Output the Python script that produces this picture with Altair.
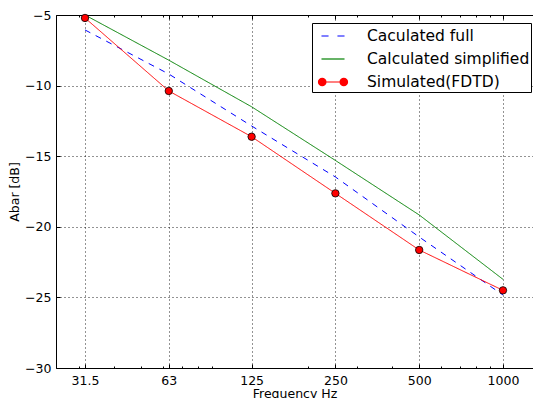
import math
import altair as alt
import pandas as pd

# ---- data ----
freqs = [31.5, 63, 125, 250, 500, 1000]
calc_full = [-6.06, -9.18, -12.86, -16.47, -20.72, -24.83]
calc_simplified = [-5.0, -8.2, -11.5, -15.3, -19.16, -23.72]
simulated = [-5.21, -10.38, -13.62, -17.63, -21.64, -24.5]
series_names = ["Caculated full", "Calculated simplified", "Simulated(FDTD)"]
major_ticks = [31.5, 63, 125, 250, 500, 1000]
minor_ticks = [30, 40, 50, 60, 70, 80, 90, 200, 300, 400, 600, 700, 800, 900]
y_ticks = [-30, -25, -20, -15, -10, -5]

rows = []
for name, vals in zip(series_names, [calc_full, calc_simplified, simulated]):
    for f, v in zip(freqs, vals):
        rows.append({"freq": f, "abar": v, "series": name})
df = pd.DataFrame(rows)
sim_df = df[df["series"] == "Simulated(FDTD)"]

FONT = "DejaVu Sans"
xscale = alt.Scale(type="log", domain=[24.78, 1282], nice=False)
yscale = alt.Scale(domain=[-30, -5], nice=False, zero=False)
colors = ["#0000ff", "#008000", "#ff0000"]
# line scales take their (alphabetical) domain from the data
color_scale = alt.Scale(range=colors)
dash_scale = alt.Scale(range=[[6, 6], [1, 0], [1, 0]])
fill_scale = alt.Scale(domain=series_names, range=colors)


# legend symbols (unit coordinates, scaled by sqrt(size)/2)
def poly_circle(cx, r, n=16):
    pts = [(cx + r * math.cos(2 * math.pi * k / n), r * math.sin(2 * math.pi * k / n)) for k in range(n)]
    return "M" + "L".join(f"{x:.3f},{y:.3f}" for x, y in pts) + "Z"


path_full = "M-0.96,-0.05L-0.37,-0.05L-0.37,0.05L-0.96,0.05Z M0.37,-0.05L0.96,-0.05L0.96,0.05L0.37,0.05Z"
path_simpl = "M-0.96,-0.05L0.96,-0.05L0.96,0.05L-0.96,0.05Z"
path_sim = ("M-0.9,-0.05L0.9,-0.05L0.9,0.05L-0.9,0.05Z "
            + poly_circle(-0.9, 0.36) + " " + poly_circle(0.9, 0.36))
shape_scale = alt.Scale(domain=series_names, range=[path_full, path_simpl, path_sim])

y_main = alt.Y("abar:Q", scale=yscale, axis=alt.Axis(
    orient="left", values=y_ticks, format="d",
    grid=True, gridColor="black", gridDash=[1, 3], gridWidth=1, gridOpacity=0.85,
    domain=False, ticks=True, tickSize=4, tickColor="black", tickWidth=1, offset=-4,
    labelPadding=5, labelFont=FONT, labelFontSize=12.5, labelColor="black",
    title="Abar [dB]", titleFont=FONT, titleFontSize=12.5,
    titleFontWeight="normal", titleColor="black", titlePadding=3))
y_plain = alt.Y("abar:Q", scale=yscale)

lines = alt.Chart(df).mark_line(strokeWidth=1, clip=True).encode(
    x=alt.X("freq:Q", scale=xscale, axis=alt.Axis(
        orient="bottom", values=major_ticks, format="~g",
        grid=True, gridColor="black", gridDash=[1, 3], gridWidth=1, gridOpacity=0.85,
        domain=False, ticks=True, tickSize=4, tickColor="black", tickWidth=1, offset=-4,
        labelPadding=6, labelFont=FONT, labelFontSize=12.5, labelColor="black",
        title="Frequency Hz", titleFont=FONT, titleFontSize=12.5,
        titleFontWeight="normal", titleColor="black", titlePadding=1)),
    y=y_main,
    color=alt.Color("series:N", scale=color_scale, legend=None),
    strokeDash=alt.StrokeDash("series:N", scale=dash_scale, legend=None),
)

points = alt.Chart(sim_df).mark_point(
    shape="circle", filled=True, fill="#ff0000", stroke="black",
    strokeWidth=0.8, size=55, opacity=1
).encode(
    x=alt.X("freq:Q", scale=xscale, axis=alt.Axis(
        orient="top", values=major_ticks, labels=False, grid=False, domain=False,
        ticks=True, tickSize=4, tickColor="black", offset=-4, title=None)),
    y=y_plain,
)

legend_layer = alt.Chart(df).mark_point(filled=True, opacity=0).encode(
    x=alt.X("freq:Q", scale=xscale, axis=alt.Axis(
        orient="bottom", values=minor_ticks, labels=False, grid=False, domain=False,
        ticks=True, tickSize=2, tickColor="black", offset=-2, title=None)),
    y=y_plain,
    fill=alt.Fill("series:N", scale=fill_scale, legend=alt.Legend(
        title=None, orient="none", legendX=256, legendY=8)),
    shape=alt.Shape("series:N", scale=shape_scale, legend=alt.Legend(
        title=None, orient="none", legendX=256, legendY=8)),
)

minor_top = alt.Chart(df).mark_point(opacity=0).encode(
    x=alt.X("freq:Q", scale=xscale, axis=alt.Axis(
        orient="top", values=minor_ticks, labels=False, grid=False, domain=False,
        ticks=True, tickSize=2, tickColor="black", offset=-2, title=None)),
    y=y_plain,
)

chart = alt.layer(lines, points, legend_layer, minor_top).resolve_axis(
    x="independent"
).properties(
    width=477, height=353,
    autosize=alt.AutoSizeParams(type="none"),
    padding={"left": 56, "top": 15, "right": 0, "bottom": 30},
    background="white",
).configure_view(
    stroke="black", strokeWidth=1
).configure_legend(
    padding=1, rowPadding=2,
    symbolSize=576, symbolStrokeWidth=0, symbolOpacity=1, symbolOffset=8,
    labelFont=FONT, labelFontSize=15.5, labelColor="black", labelOffset=22,
    labelLimit=400, strokeColor="black", fillColor="white", cornerRadius=0,
    strokeWidth=1,
)

chart.save("out.html", embed_options={"renderer": "svg", "actions": False})
